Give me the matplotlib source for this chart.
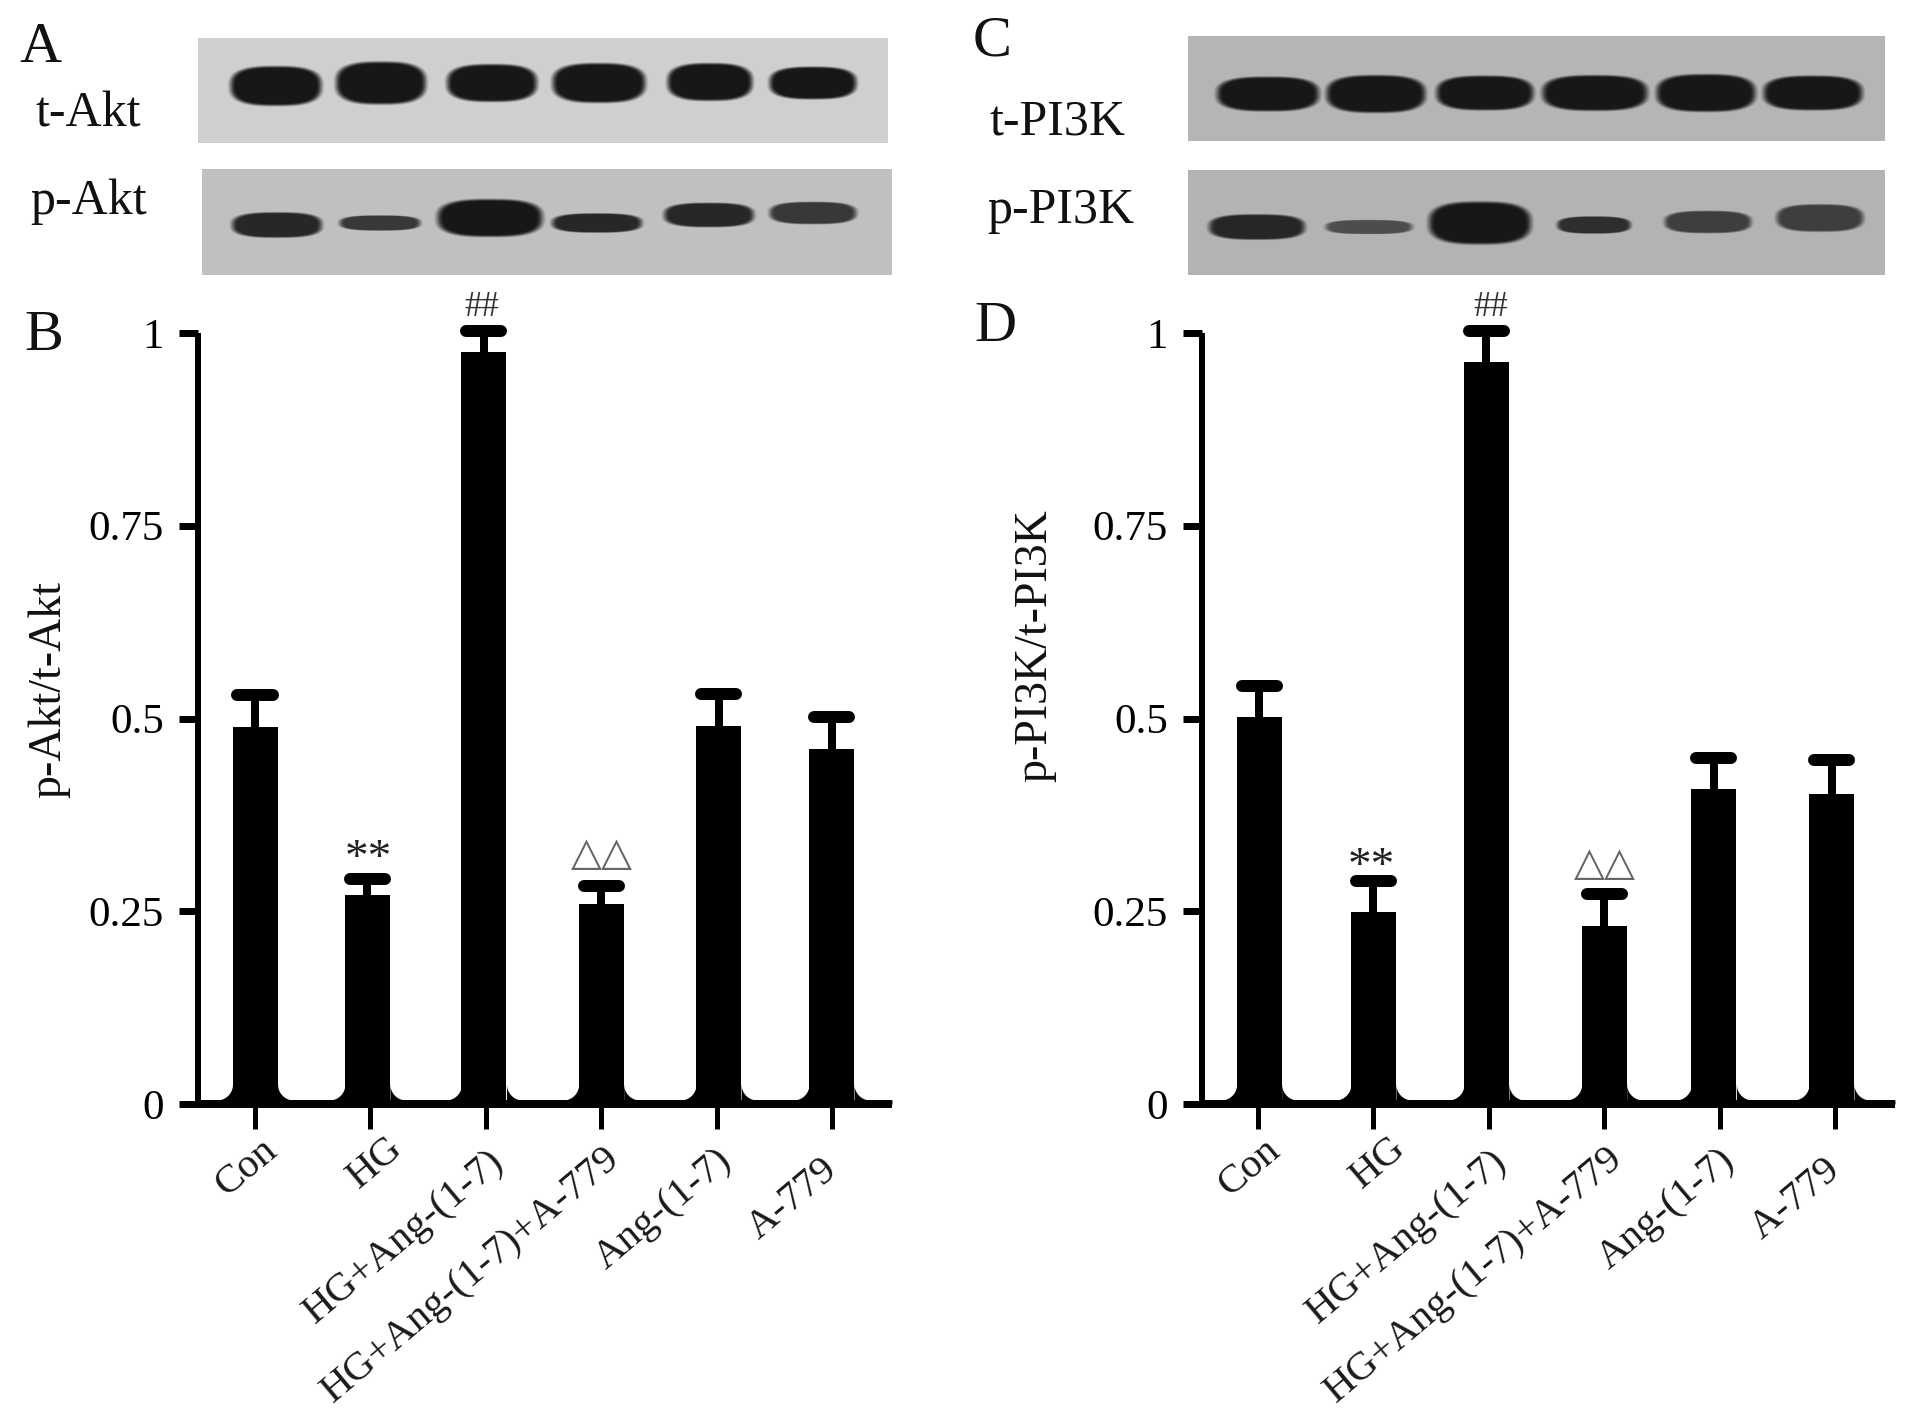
import numpy as np
import matplotlib
matplotlib.use("Agg")
import matplotlib.pyplot as plt

plt.rcParams['font.family'] = ['Liberation Serif', 'DejaVu Sans']

W, H = 1913, 1423

groups = ['Con', 'HG', 'HG+Ang-(1-7)', 'HG+Ang-(1-7)+A-779', 'Ang-(1-7)', 'A-779']
yticks = [0, 0.25, 0.5, 0.75, 1]
ytick_labels = ['0', '0.25', '0.5', '0.75', '1']

# bar heights and top of the error bars
akt_mean = [0.489, 0.271, 0.976, 0.259, 0.490, 0.460]
akt_top = [0.530, 0.292, 1.003, 0.283, 0.532, 0.502]
pi3k_mean = [0.502, 0.249, 0.962, 0.231, 0.409, 0.402]
pi3k_top = [0.542, 0.289, 1.003, 0.272, 0.449, 0.446]

# bars are not quite on the ticks in the original
akt_pos = [0, 0.974, 1.984, 3.0, 4.017, 4.996]
pi3k_pos = [0.01, 1.0, 1.98, 3.0, 3.95, 4.97]

# the rotated labels were placed by hand too (pixels)
label_dx = [-4, 6, -8, -8, -11, -21]
label_dy = [8, 10, -3, 0, -2, -11]

# blots: band centre x, centre y, width, height, darkness (pixels of the figure)
takt_x = [276, 381, 492, 599, 710, 813]
takt_y = [86, 83, 83, 83, 82, 83]
takt_w = [90, 89, 89, 92, 84, 86]
takt_h = [39, 42, 37, 39, 37, 32]
takt_d = [1, 1, 1, 1, 1, 1]

pakt_x = [277, 380, 490, 597, 709, 813]
pakt_y = [225, 223, 218, 223, 215, 213]
pakt_w = [89, 80, 104, 89, 89, 86]
pakt_h = [25, 15, 37, 19, 24, 22]
pakt_d = [0.9, 0.8, 1, 0.9, 0.9, 0.8]

tpi3k_x = [1268, 1376, 1485, 1595, 1706, 1813]
tpi3k_y = [94, 94, 93, 93, 93, 93]
tpi3k_w = [101, 98, 96, 104, 98, 98]
tpi3k_h = [34, 37, 34, 35, 37, 34]
tpi3k_d = [1, 1, 1, 1, 1, 1]

ppi3k_x = [1257, 1369, 1480, 1594, 1708, 1820]
ppi3k_y = [227, 227, 223, 225, 222, 218]
ppi3k_w = [95, 86, 101, 73, 86, 86]
ppi3k_h = [25, 14, 42, 17, 22, 27]
ppi3k_d = [0.9, 0.65, 1, 0.85, 0.75, 0.75]


def box(x0, y0, x1, y1):
    # pixel box (y from the top) to figure fractions
    return [x0 / W, 1 - y1 / H, (x1 - x0) / W, (y1 - y0) / H]


def px(v):
    return v * 72 / 100


def draw_blot(fig, x0, y0, x1, y1, bg, xs, ys, ws, hs, ds):
    ax = fig.add_axes(box(x0, y0, x1, y1))
    gx, gy = np.meshgrid(np.arange(x0, x1) + 0.5, np.arange(y0, y1) + 0.5)
    img = np.full(gx.shape, bg, dtype=float)
    for cx, cy, w, h, d in zip(xs, ys, ws, hs, ds):
        r = (np.abs(gx - cx) / (w / 2)) ** 2.8 + (np.abs(gy - cy) / (h / 2)) ** 2.8
        a = np.clip((1.3 - r) / 0.6, 0, 1)
        a = a * a * (3 - 2 * a) * d
        img = img * (1 - a) + 0.09 * a
    ax.imshow(img, cmap='gray', vmin=0, vmax=1, aspect='auto', interpolation='bilinear')
    ax.axis('off')


def fillet(ax, left, right, r_x, r_y, at_left=True, at_right=True):
    # the small rounded black foot beside a bar
    x = np.linspace(left, right, 200)
    d = np.full(x.shape, 1e9)
    if at_left:
        d = np.minimum(d, x - left)
    if at_right:
        d = np.minimum(d, right - x)
    t = np.clip(1 - d / r_x, 0, 1)
    y = 4 / 771 + r_y * (1 - np.sqrt(1 - t ** 2))
    ax.fill_between(x, 0, y, color='k', lw=0)


def draw_bars(fig, x0, x1, tick0, pos, mean, top, ylabel, ylabel_xy):
    step = 115.4
    ax = fig.add_axes(box(x0, 333, x1, 1104))
    ax.set_xlim((x0 - tick0) / step, (x1 - tick0) / step)
    ax.set_ylim(0, 1)
    ax.patch.set_alpha(0)
    bw = 45 / step
    ax.bar(pos, mean, width=bw, color='k', zorder=3, clip_on=False)
    ax.vlines(pos, mean, top, color='k', lw=px(8), zorder=3, clip_on=False)
    ax.hlines(top, np.array(pos) - 0.152, np.array(pos) + 0.152, color='k', lw=px(12),
              capstyle='round', zorder=3, clip_on=False)

    edges = [ax.get_xlim()[0]]
    for p in pos:
        edges += [p - bw / 2, p + bw / 2]
    edges.append(ax.get_xlim()[1])
    n_gaps = len(edges) // 2
    for i in range(n_gaps):
        fillet(ax, edges[2 * i], edges[2 * i + 1], 16 / step, 16 / 771,
               at_left=i > 0, at_right=i < n_gaps - 1)

    for s in ['top', 'right']:
        ax.spines[s].set_visible(False)
    ax.spines['left'].set_linewidth(px(6))
    ax.spines['bottom'].set_linewidth(px(8))
    ax.spines['left'].set_capstyle('butt')
    ax.spines['bottom'].set_capstyle('butt')
    ax.set_yticks(yticks)
    ax.set_yticklabels(ytick_labels)
    ax.tick_params(axis='y', length=px(19), width=px(7), pad=px(15), labelsize=31)
    ax.set_xticks(range(len(groups)))
    ax.set_xticklabels([])
    ax.tick_params(axis='x', length=px(25), width=px(5))
    for i, g in enumerate(groups):
        ax.annotate(g, xy=(i, 0), xycoords=('data', 'axes fraction'),
                    xytext=(px(10 + label_dx[i]), -px(36 - label_dy[i])),
                    textcoords='offset points',
                    rotation=40, ha='right', va='top', rotation_mode='anchor',
                    fontsize=29.5, color='#1a1a1a')
    fig.text(ylabel_xy[0] / W, 1 - ylabel_xy[1] / H, ylabel, rotation=90,
             ha='center', va='center', fontsize=33, color='#111111')
    return ax


def label(fig, x, y, s, size, color='#111111', **kw):
    fig.text(x / W, 1 - y / H, s, ha='center', va='center', fontsize=size, color=color, **kw)


fig = plt.figure(figsize=(W / 100, H / 100), dpi=100)

draw_blot(fig, 198, 38, 888, 143, 0.81, takt_x, takt_y, takt_w, takt_h, takt_d)
draw_blot(fig, 202, 169, 892, 275, 0.75, pakt_x, pakt_y, pakt_w, pakt_h, pakt_d)
draw_blot(fig, 1188, 36, 1885, 141, 0.71, tpi3k_x, tpi3k_y, tpi3k_w, tpi3k_h, tpi3k_d)
draw_blot(fig, 1188, 170, 1885, 275, 0.70, ppi3k_x, ppi3k_y, ppi3k_w, ppi3k_h, ppi3k_d)

draw_bars(fig, 198, 892, 255, akt_pos, akt_mean, akt_top, 'p-Akt/t-Akt', (49, 689))
draw_bars(fig, 1202, 1895, 1258, pi3k_pos, pi3k_mean, pi3k_top, 'p-PI3K/t-PI3K', (1035, 646))

label(fig, 40, 48, 'A', 42)
label(fig, 44, 336, 'B', 42)
label(fig, 992, 41, 'C', 42)
label(fig, 995, 327, 'D', 42)
label(fig, 88, 114, 't-Akt', 36)
label(fig, 89, 202, 'p-Akt', 36)
label(fig, 1058, 122, 't-PI3K', 36)
label(fig, 1061, 211, 'p-PI3K', 36)

# significance marks
label(fig, 482, 307, '##', 25, color='#333333')
label(fig, 1491, 308, '##', 25, color='#333333')
label(fig, 368, 860, '**', 34, color='#222222')
label(fig, 1371, 868, '**', 34, color='#222222')
label(fig, 602, 855, '\u25b3\u25b3', 29, color='#666666')
label(fig, 1605, 866, '\u25b3\u25b3', 29, color='#666666')

fig.savefig('out.png', dpi=100)
